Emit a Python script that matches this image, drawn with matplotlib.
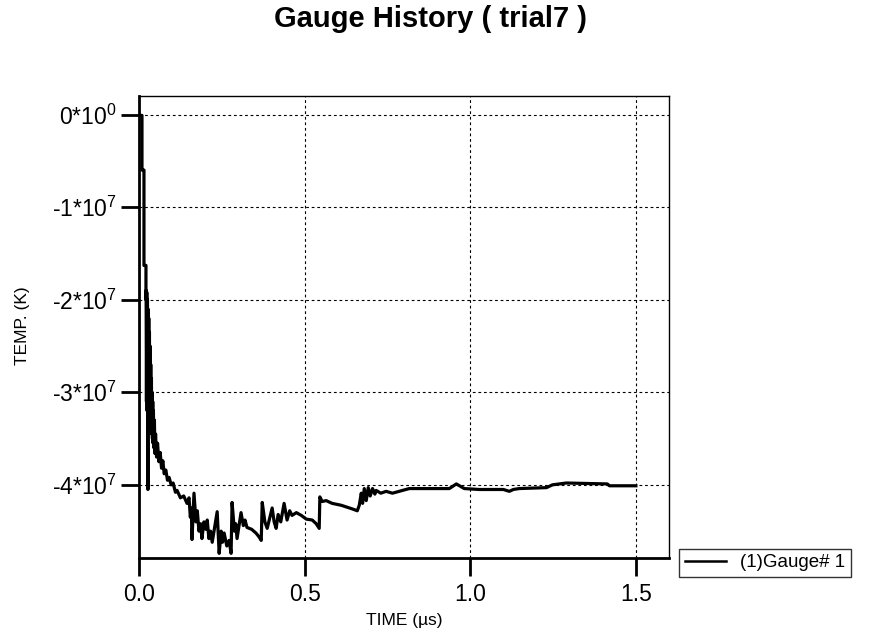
import numpy as np
import matplotlib
matplotlib.use("Agg")
import matplotlib.pyplot as plt

plt.rcParams['font.family'] = ['Liberation Sans', 'DejaVu Sans']
plt.rcParams['mathtext.fontset'] = 'custom'
plt.rcParams['mathtext.rm'] = 'Liberation Sans'

# gauge history, time in microseconds, temperature in units of 1e7 K
time_us = [0.000, 0.006, 0.009, 0.009, 0.015, 0.015, 0.021, 0.021,
           0.0215, 0.0225, 0.0235, 0.0245, 0.0255, 0.0265, 0.027, 0.0272,
           0.0285, 0.0295, 0.0305, 0.0315, 0.0325, 0.0335, 0.0345, 0.0355,
           0.0365, 0.0375, 0.0385, 0.0395, 0.0405, 0.0415, 0.0425, 0.0435,
           0.045, 0.0465, 0.048, 0.050, 0.053, 0.056, 0.060, 0.064, 0.068,
           0.072, 0.076, 0.081, 0.086, 0.091, 0.097, 0.103, 0.110, 0.115,
           0.125, 0.135, 0.145, 0.151, 0.155, 0.158, 0.160, 0.166, 0.172,
           0.176, 0.181, 0.186, 0.190, 0.196, 0.202, 0.206, 0.211, 0.216,
           0.221, 0.236, 0.242, 0.248, 0.252, 0.257, 0.265, 0.272, 0.278,
           0.281, 0.288, 0.292, 0.296, 0.308, 0.315, 0.320, 0.326, 0.340,
           0.353, 0.362, 0.369, 0.372, 0.380, 0.387, 0.402, 0.408, 0.414,
           0.420, 0.428, 0.438, 0.447, 0.455, 0.462, 0.475, 0.490, 0.505,
           0.523, 0.535, 0.544, 0.546, 0.553, 0.565, 0.583, 0.610, 0.644,
           0.659, 0.665, 0.671, 0.675, 0.680, 0.686, 0.692, 0.698, 0.705,
           0.712, 0.716, 0.730, 0.746, 0.765, 0.785, 0.816, 0.937, 0.958,
           0.982, 1.027, 1.100, 1.118, 1.130, 1.148, 1.230, 1.248, 1.290,
           1.414, 1.420, 1.500]
temp_e7 = [0.00, -0.01, -0.01, -0.60, -0.60, -1.63, -1.63, -2.00,
           -1.90, -3.10, -1.92, -3.20, -2.00, -3.25, -4.05, -2.10,
           -3.30, -2.20, -3.35, -2.35, -3.30, -2.50, -3.40, -2.70,
           -3.38, -2.85, -3.45, -3.00, -3.50, -3.10, -3.55, -3.20,
           -3.60, -3.30, -3.66, -3.45, -3.70, -3.55, -3.75, -3.65, -3.82,
           -3.74, -3.88, -3.84, -3.95, -3.92, -4.00, -3.98, -4.08, -4.06,
           -4.14, -4.12, -4.20, -4.14, -4.35, -4.25, -4.59, -4.09, -4.40,
           -4.28, -4.50, -4.42, -4.58, -4.40, -4.48, -4.38, -4.58, -4.50,
           -4.62, -4.29, -4.74, -4.50, -4.62, -4.52, -4.66, -4.60, -4.74,
           -4.19, -4.50, -4.42, -4.58, -4.30, -4.44, -4.38, -4.46, -4.48,
           -4.52, -4.56, -4.60, -4.19, -4.40, -4.47, -4.25, -4.40, -4.47,
           -4.32, -4.40, -4.20, -4.38, -4.28, -4.33, -4.30, -4.33, -4.37,
           -4.38, -4.42, -4.47, -4.13, -4.18, -4.17, -4.20, -4.22, -4.26,
           -4.28, -4.22, -4.09, -4.20, -4.04, -4.17, -4.03, -4.12, -4.04,
           -4.10, -4.06, -4.09, -4.07, -4.09, -4.07, -4.04, -4.04, -3.99,
           -4.04, -4.05, -4.05, -4.07, -4.05, -4.04, -4.03, -4.00, -3.98,
           -3.99, -4.01, -4.01]

x_ticks = [0.0, 0.5, 1.0, 1.5]
x_tick_labels = ['0.0', '0.5', '1.0', '1.5']
y_ticks = [0, -1e7, -2e7, -3e7, -4e7]
y_tick_labels = [r'0*10$^{\mathregular{0}}$', r'-1*10$^{\mathregular{7}}$',
                 r'-2*10$^{\mathregular{7}}$', r'-3*10$^{\mathregular{7}}$',
                 r'-4*10$^{\mathregular{7}}$']

fig = plt.figure(figsize=(8.74, 6.33), dpi=100, facecolor='white')
ax = fig.add_axes([139 / 874, 1 - 558 / 633, 530 / 874, 462 / 633])

temp_k = np.array(temp_e7) * 1e7
ax.plot(time_us, temp_k, color='black', linewidth=2.3, label='(1)Gauge# 1')

ax.set_xlim(0, 1.6)
ax.set_ylim(-4.79e7, 0.2e7)
ax.set_xticks(x_ticks)
ax.set_xticklabels(x_tick_labels, fontsize=16.5)
ax.set_yticks(y_ticks)
ax.set_yticklabels(y_tick_labels, fontsize=16.5)
ax.tick_params(axis='both', direction='out', length=13, width=2, color='black')
ax.tick_params(axis='x', pad=5)
ax.tick_params(axis='y', pad=3)

ax.grid(True, color='black', linestyle=(0, (2.5, 2.5)), linewidth=0.8)

ax.spines['left'].set_linewidth(2)
ax.spines['bottom'].set_linewidth(2)
ax.spines['top'].set_linewidth(1)
ax.spines['right'].set_linewidth(1)

fig.text(404 / 874, 1 - 621 / 633, 'TIME (\u00b5s)', ha='center', va='center', fontsize=12.5)
fig.text(23 / 874, 1 - 326 / 633, 'TEMP. (K)', ha='center', va='center', fontsize=12.5,
         rotation=90)

fig.text(430 / 874, 1 - 19 / 633, 'Gauge History ( trial7 )', ha='center', va='center',
         fontsize=21, fontweight='bold')

leg = fig.legend(loc='lower left', bbox_to_anchor=(679 / 874, 1 - 577 / 633),
                 fontsize=13.5, frameon=True, fancybox=False, handlelength=2.2,
                 borderpad=0.3, handletextpad=0.75, borderaxespad=0)
leg.get_frame().set_edgecolor('black')
leg.get_frame().set_linewidth(1.0)
leg.get_lines()[0].set_linewidth(1.8)

fig.savefig('out.png', dpi=100, facecolor='white')
